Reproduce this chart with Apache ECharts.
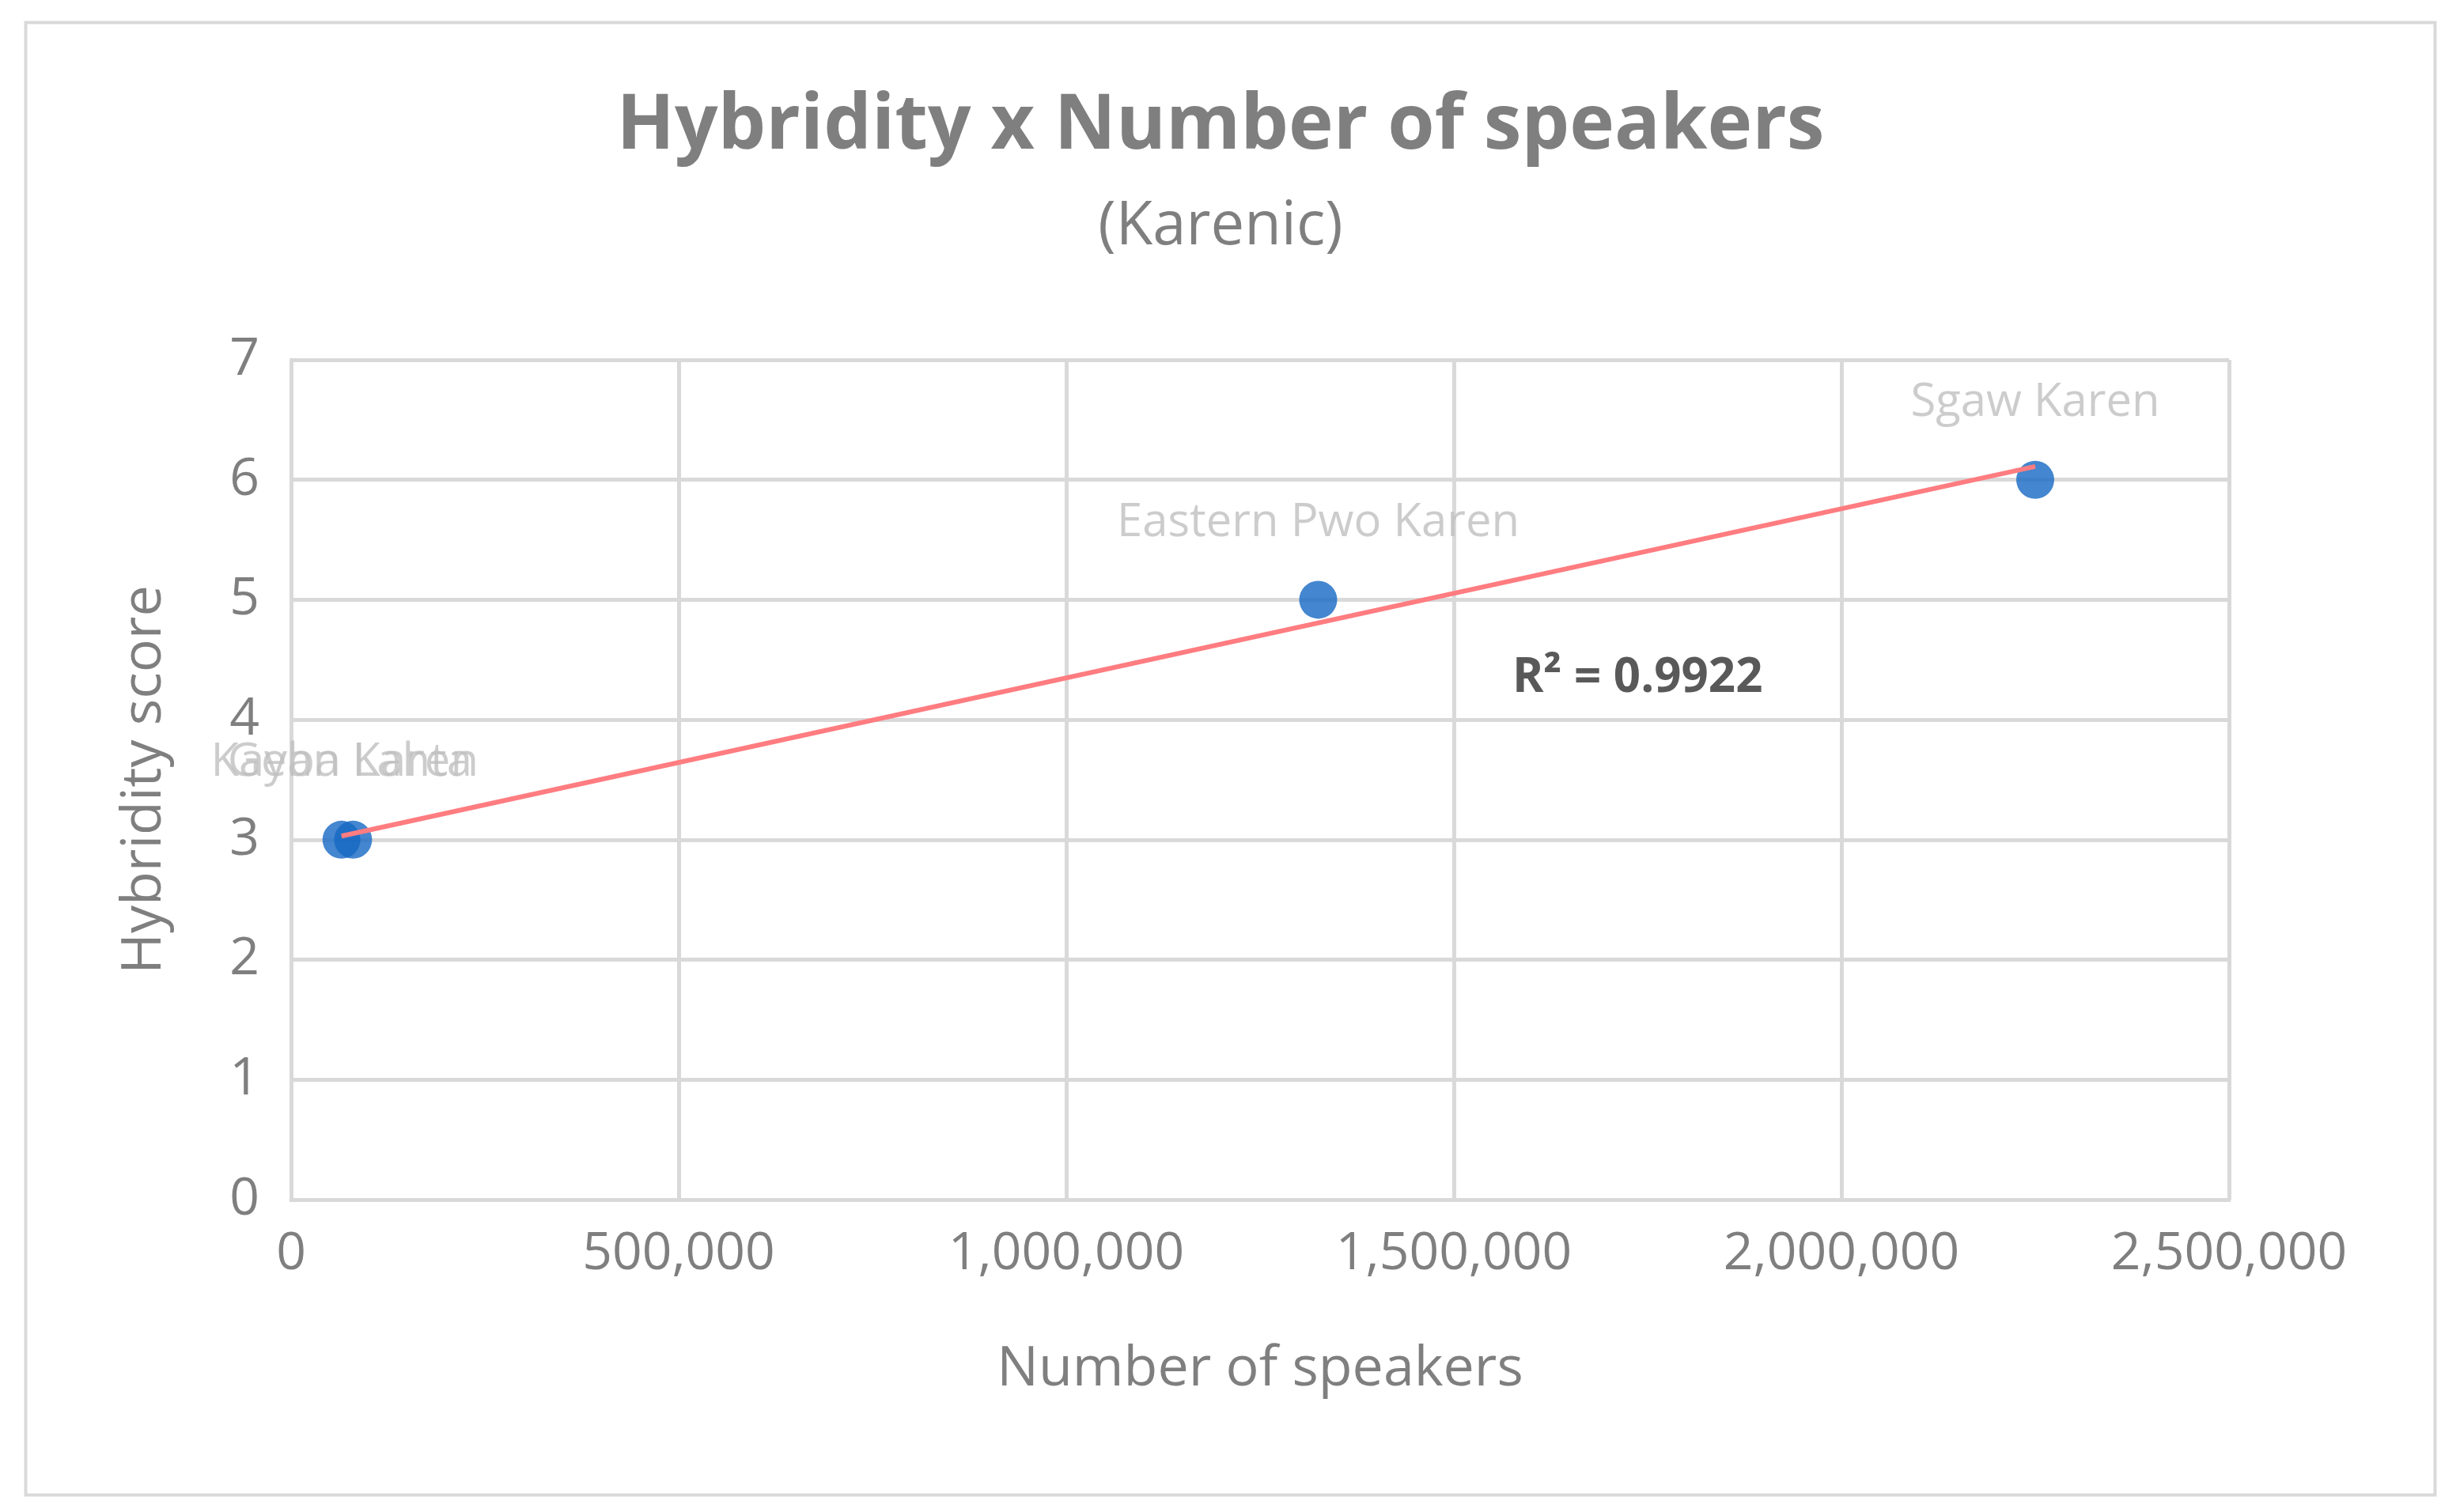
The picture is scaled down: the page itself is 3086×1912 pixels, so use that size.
<!DOCTYPE html>
<html>
<head>
<meta charset="utf-8">
<script src="https://cdn.jsdelivr.net/npm/echarts/dist/echarts.min.js"></script>
<style>
html,body{margin:0;padding:0;background:#fff;}
#main{width:3086px;height:1912px;}
</style>
</head>
<body>
<div id="main"></div>
<script>
// data
var languages = ['Kayan Lahta', 'Geba Karen', 'Eastern Pwo Karen', 'Sgaw Karen'];
var speakers = [65000, 80000, 1325000, 2250000];
var hybridity = [3, 3, 5, 6];
var xTicks = [0, 500000, 1000000, 1500000, 2000000, 2500000];
var yTicks = [0, 1, 2, 3, 4, 5, 6, 7];

// linear trendline (least squares)
var n = speakers.length, sx = 0, sy = 0, sxx = 0, sxy = 0;
for (var i = 0; i < n; i++) {
  sx += speakers[i]; sy += hybridity[i];
  sxx += speakers[i] * speakers[i]; sxy += speakers[i] * hybridity[i];
}
var slope = (n * sxy - sx * sy) / (n * sxx - sx * sx);
var icept = (sy - slope * sx) / n;
var xmin = Math.min.apply(null, speakers), xmax = Math.max.apply(null, speakers);
var trend = [[xmin, icept + slope * xmin], [xmax, icept + slope * xmax]];

var font = 'Open Sans';
var chart = echarts.init(document.getElementById('main'));
chart.setOption({
  backgroundColor: '#fff',
  textStyle: {fontFamily: font},
  graphic: [{
    type: 'rect', left: 30, top: 26,
    shape: {width: 3046, height: 1862},
    style: {fill: 'none', stroke: '#d9d9d9', lineWidth: 4}
  }, {
    type: 'text', left: 1912, top: 828,
    style: {text: 'R² = 0.9922', fill: '#595959', font: 'bold 60px "Open Sans"'}
  }],
  title: {
    text: 'Hybridity x Number of speakers',
    subtext: '(Karenic)',
    left: 'center', top: 108, itemGap: 40,
    textStyle: {fontFamily: font, fontWeight: 'bold', fontSize: 96, color: '#7f7f7f'},
    subtextStyle: {fontFamily: font, fontSize: 76, color: '#7f7f7f'}
  },
  grid: {left: 368, right: 268, top: 455, bottom: 395},
  xAxis: {
    type: 'value', min: 0, max: 2500000, interval: 500000,
    name: 'Number of speakers', nameLocation: 'middle', nameGap: 180,
    nameTextStyle: {fontSize: 70, color: '#7f7f7f'},
    axisLine: {show: true, lineStyle: {color: '#d9d9d9', width: 5}},
    axisTick: {show: false},
    axisLabel: {fontSize: 66, color: '#7f7f7f', margin: 36,
      formatter: function (v) { return v.toLocaleString('en-US'); }},
    splitLine: {show: true, lineStyle: {color: '#d9d9d9', width: 5}}
  },
  yAxis: {
    type: 'value', min: 0, max: 7, interval: 1,
    name: 'Hybridity score', nameLocation: 'middle', nameGap: 150,
    nameTextStyle: {fontSize: 70, color: '#7f7f7f'},
    axisLine: {show: true, lineStyle: {color: '#d9d9d9', width: 5}},
    axisTick: {show: false},
    axisLabel: {fontSize: 66, color: '#7f7f7f', margin: 40},
    splitLine: {show: true, lineStyle: {color: '#d9d9d9', width: 5}}
  },
  series: [{
    type: 'line', data: trend, showSymbol: false, silent: true,
    lineStyle: {color: '#ff7c80', width: 6}, z: 3
  }, {
    type: 'scatter', symbolSize: 48, z: 2,
    itemStyle: {color: '#1568c3'},
    data: speakers.map(function (s, i) { return {value: [s, hybridity[i]], name: languages[i]}; }),
    label: {show: true, position: 'top', distance: 44, fontSize: 58, color: '#bfbfbf',
      formatter: function (p) { return p.name; }},
    labelLayout: {hideOverlap: false}
  }]
});
</script>
</body>
</html>
